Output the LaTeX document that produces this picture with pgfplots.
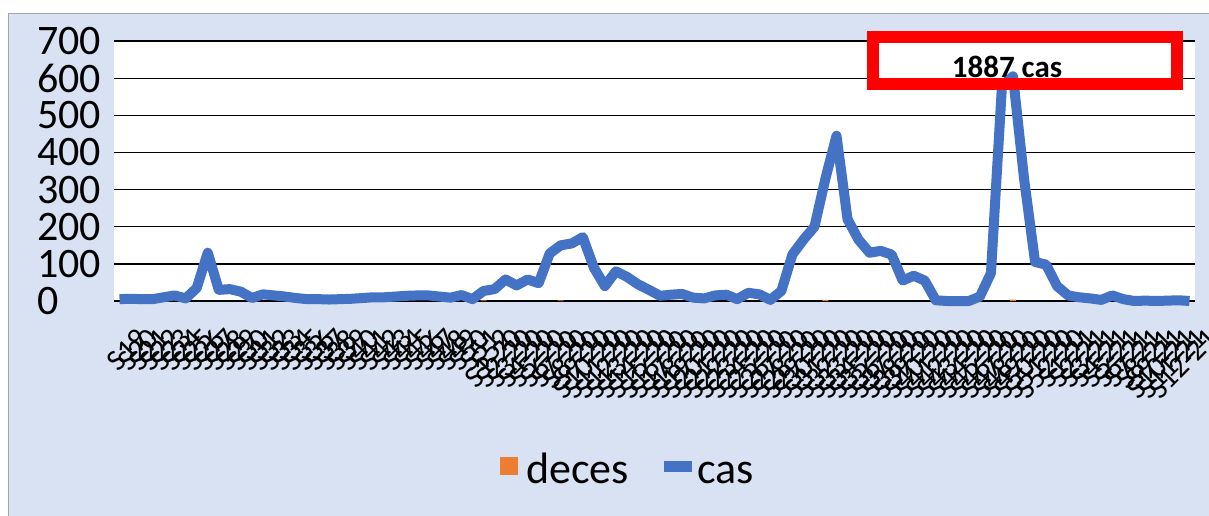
\documentclass[border=0pt]{standalone}
\usepackage{fontspec}
\setmainfont{Carlito}
\usepackage{pgfplots}
\pgfplotsset{compat=1.18}
\definecolor{bgblue}{RGB}{217,226,243}
\definecolor{casblue}{RGB}{68,114,196}
\definecolor{decorange}{RGB}{237,125,49}
\begin{document}
\begin{tikzpicture}[x=1pt,y=1pt]
\useasboundingbox (-114,-214) rectangle (1095,301);
\fill[white] (-114,-214) rectangle (1095,301);
\fill[bgblue] (-105,-220) rectangle (1100,287);
\draw[black!35, line width=1pt] (-105,-220) -- (-105,287) -- (1100,287);
\begin{axis}[
  at={(0,0)}, anchor=south west,
  width=1081pt, height=260pt, scale only axis,
  xmin=-0.5, xmax=97.5, ymin=0, ymax=700,
  ytick={0,100,...,700},
  ymajorgrids, major grid style={black, line width=1.3pt},
  axis line style={draw=none},
  tick style={draw=none},
  axis background/.style={fill=white},
  clip=false,
  /pgf/number format/assume math mode=true,
  yticklabel style={font=\fontsize{42}{48}\selectfont, anchor=west, inner sep=0pt, xshift=-77pt},
  xtick={0,...,97},
  xticklabels={S19,S20,S21,S22,S23,S24,S25,S26,S27,S28,S29,S30,S31,S32,S33,S34,S35,S36,S37,S38,S39,S40,S41,S42,S43,S44,S45,S46,S47,S48,S49,S50,S51,S52,S1-20,S2-20,S3-20,S4-20,S5-20,S6-20,S7-20,S8-20,S9-20,S10-20,S11-20,S12-20,S13-20,S14-20,S15-20,S16-20,S17-20,S18-20,S19-20,S20-20,S21-20,S22-20,S23-20,S24-20,S25-20,S26-20,S27-20,S28-20,S29-20,S30-20,S31-20,S32-20,S33-20,S34-20,S35-20,S36-20,S37-20,S38-20,S39-20,S40-20,S41-20,S42-20,S43-20,S44-20,S45-20,S46-20,S47-20,S48-20,S49-20,S50-20,S51-20,S52-20,S1-21,S2-21,S3-21,S4-21,S5-21,S6-21,S7-21,S8-21,S9-21,S10-21,S11-21,S12-21},
  xticklabel style={font=\fontsize{30}{34}\selectfont, rotate=45, anchor=east, inner sep=0pt, xshift=-7pt, yshift=-40pt},
]
\addplot[ybar, bar width=6pt, fill=decorange, draw=none]
  coordinates {(6,3) (33,2) (40,2) (64,3) (81,4)};
\addplot[draw=casblue, line width=10pt, line join=round]
  table[row sep=\\] {
x y\\
0 5\\ 1 6\\ 2 5\\ 3 5\\ 4 10\\ 5 15\\ 6 7\\ 7 35\\ 8 130\\ 9 30\\
10 32\\ 11 25\\ 12 8\\ 13 18\\ 14 15\\ 15 12\\ 16 8\\ 17 5\\ 18 5\\ 19 4\\
20 5\\ 21 6\\ 22 8\\ 23 10\\ 24 10\\ 25 12\\ 26 14\\ 27 15\\ 28 15\\ 29 12\\
30 9\\ 31 16\\ 32 5\\ 33 27\\ 34 32\\ 35 58\\ 36 42\\ 37 58\\ 38 48\\ 39 128\\
40 150\\ 41 155\\ 42 172\\ 43 90\\ 44 40\\ 45 80\\ 46 65\\ 47 45\\ 48 30\\ 49 14\\
50 17\\ 51 19\\ 52 9\\ 53 7\\ 54 15\\ 55 17\\ 56 5\\ 57 22\\ 58 18\\ 59 3\\
60 27\\ 61 125\\ 62 165\\ 63 200\\ 64 330\\ 65 445\\ 66 220\\ 67 165\\ 68 130\\ 69 135\\
70 125\\ 71 55\\ 72 68\\ 73 55\\ 74 2\\ 75 0\\ 76 0\\ 77 0\\ 78 12\\ 79 75\\
80 580\\ 81 605\\ 82 330\\ 83 105\\ 84 98\\ 85 40\\ 86 15\\ 87 10\\ 88 7\\ 89 3\\
90 15\\ 91 5\\ 92 0\\ 93 1\\ 94 0\\ 95 1\\ 96 2\\ 97 0\\
};
\end{axis}
% legend
\fill[decorange] (386,-156) rectangle (404,-174);
\node[font=\fontsize{44}{50}\selectfont, anchor=base west, inner sep=0pt] at (412,-182) {deces};
\fill[casblue] (550,-160) rectangle (578,-171);
\node[font=\fontsize{44}{50}\selectfont, anchor=base west, inner sep=0pt] at (583,-182) {cas};
% annotation
\draw[red, line width=12pt] (759,264) rectangle (1063,217);
\node[font=\bfseries\fontsize{31}{36}\selectfont, anchor=base, inner sep=0pt] at (893,224) {1887 cas};
\end{tikzpicture}
\end{document}
